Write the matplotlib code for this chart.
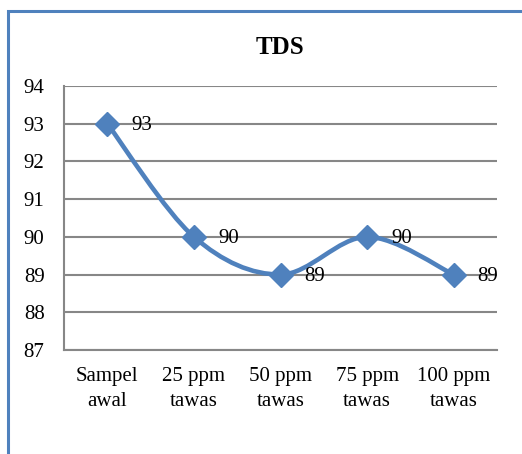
import matplotlib.pyplot as plt
from matplotlib.path import Path
from matplotlib.patches import PathPatch, Rectangle

plt.rcParams['font.family'] = ['Liberation Serif', 'DejaVu Serif']

categories = ["Sampel\nawal", "25 ppm\ntawas", "50 ppm\ntawas", "75 ppm\ntawas", "100 ppm\ntawas"]
tds = [93, 90, 89, 90, 89]
y_ticks = [87, 88, 89, 90, 91, 92, 93, 94]

blue = "#4F81BD"
grid = "#878787"

W, H = 522, 454
fig = plt.figure(figsize=(W / 100, H / 100), dpi=100)
ax = fig.add_axes([64 / W, 1 - 350 / H, 433 / W, 264 / H])

# smoothed line like the spreadsheet "smooth line" option (cubic bezier segments)
x = list(range(len(tds)))
verts = [(x[0], tds[0])]
codes = [Path.MOVETO]
n = len(tds)
for i in range(n - 1):
    p0 = (x[max(i - 1, 0)], tds[max(i - 1, 0)])
    p1 = (x[i], tds[i])
    p2 = (x[i + 1], tds[i + 1])
    p3 = (x[min(i + 2, n - 1)], tds[min(i + 2, n - 1)])
    c1 = (p1[0] + (p2[0] - p0[0]) / 6, p1[1] + (p2[1] - p0[1]) / 6)
    c2 = (p2[0] - (p3[0] - p1[0]) / 6, p2[1] - (p3[1] - p1[1]) / 6)
    verts += [c1, c2, p2]
    codes += [Path.CURVE4] * 3
ax.add_patch(PathPatch(Path(verts, codes), facecolor="none", edgecolor=blue,
                       lw=3.3, capstyle="round", joinstyle="round", zorder=3))
ax.plot(x, tds, linestyle="none", marker="D", markersize=12, color=blue, zorder=4)

for xi, v in zip(x, tds):
    ax.annotate(str(v), (xi, v), xytext=(24, -2), textcoords="offset pixels",
                ha="left", va="center", fontsize=15, zorder=5)

ax.set_xlim(-0.5, 4.5)
ax.set_ylim(87, 94)
ax.set_yticks(y_ticks)
ax.set_xticks(x)
ax.set_xticklabels(categories)
for lbl in ax.get_xticklabels():
    lbl.set_linespacing(1.45)
ax.tick_params(axis="both", length=0, labelsize=15)
ax.tick_params(axis="y", pad=14)
ax.tick_params(axis="x", pad=12)
ax.grid(axis="y", color=grid, lw=1.5)
ax.set_axisbelow(True)
for side in ["top", "right"]:
    ax.spines[side].set_visible(False)
for side in ["left", "bottom"]:
    ax.spines[side].set_color(grid)
    ax.spines[side].set_linewidth(1.5)

fig.text(280 / W, 1 - 48 / H, "TDS", ha="center", va="center",
         fontsize=18, fontweight="bold")

# chart area border, running off the right and bottom edges
fig.patches.append(Rectangle((8 / W, -0.1), 1.2, 1.1 - 11 / H, transform=fig.transFigure,
                             facecolor="none", edgecolor=blue, lw=2.2))

fig.savefig("out.png", dpi=100)
